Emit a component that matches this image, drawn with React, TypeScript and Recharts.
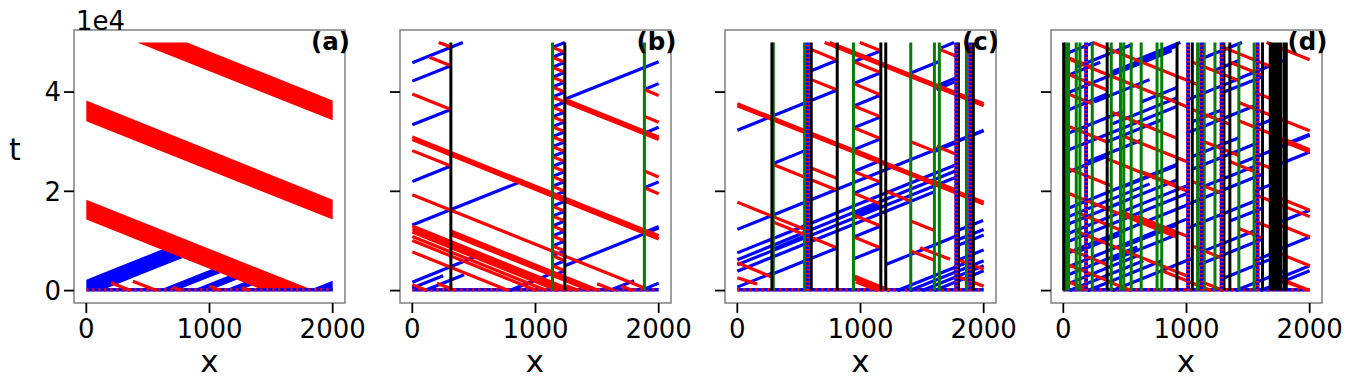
import React from 'react';
import { ComposedChart, Line, Area, XAxis, YAxis, ReferenceArea } from 'recharts';

const FONT = 'DejaVu Sans, sans-serif';
const RED = '#ff0000';
const BLUE = '#0000ff';
const GREEN = '#008000';
const BLACK = '#000000';

const X_TICKS = [0, 1000, 2000];
const T_TICKS = [0, 20000, 40000];
const T_MAX = 50000;
const PANEL_LABELS = ['(a)', '(b)', '(c)', '(d)'];

// ---------- panel (a) ----------
// bands: [x, tLow, tHigh]
const aRedBands = [
  [[0, 14300, 18300], [1445, 0, 4000], [1850, 0, 0]],
  [[0, 34100, 38300], [2000, 14300, 18300]],
  [[414, 50000, 50000], [818, 46000, 50000], [2000, 34300, 38300]],
];
const aBlueBands = [
  [[0, 0, 2200], [120, 0, 3390], [700, 5740, 9130], [830, 7030, 7800]],
  [[581, 0, 0], [730, 0, 1480], [1100, 3660, 5138]],
  [[851, 0, 0], [1000, 0, 1480], [1250, 2480, 3960]],
  [[1108, 0, 0], [1243, 0, 1340], [1350, 1060, 2400]],
  [[1800, 0, 0], [2000, 0, 1980]],
];
const aTraj = [
  [200, 1600, 360, 0],
  [378, 1900, 570, 0],
  [700, 700, 770, 0],
  [1000, 900, 1090, 0],
  [1260, 600, 1320, 0],
];
const aBlack: number[] = [];
const aGreen: number[] = [];
const aCols: number[][] = [];

// ---------- panel (b) ----------
const bBlack = [313, 1238];
const bGreen = [1138, 1884];
const bZigX = [1138, 1238];
const bZigT = [3000, 4000, 5000, 6000, 7000, 8000, 9000, 10000, 11000, 12000, 13000, 14000, 15000, 16000,
  17000, 18000, 19000, 20000, 21000, 22000, 23000, 24000, 25000, 26000, 27000, 28000, 29000, 30000, 31000,
  32000, 33000, 34000, 35000, 36000, 37000, 38000, 39000, 40000, 41000, 42000, 43000, 44000, 45000, 46000,
  47000, 48000, 49000, 50000];
const bTraj = [
  [0, 45900, 410, 50000],
  [0, 42200, 313, 45300, 140, 47000],
  [214, 50000, 313, 49100],
  [0, 33400, 313, 36500, 0, 39600],
  [0, 22000, 313, 25100, 0, 28200],
  [0, 13200, 868, 21800],
  [1238, 5000, 2000, 12600],
  [0, 30950, 2000, 11050],
  [0, 30420, 2000, 10400],
  [1238, 38530, 2000, 30950],
  [1238, 38000, 2000, 30420],
  [1238, 38530, 2000, 46100],
  [0, 19300, 1884, 500],
  [2000, 39300, 1884, 40500, 2000, 41700],
  [2000, 30500, 1884, 31700, 2000, 32900],
  [2000, 19500, 1884, 20700, 2000, 21900],
  [2000, 10500, 1884, 11700, 2000, 12900],
  [1884, 35100, 2000, 33900],
  [1884, 24100, 2000, 22900],
  [0, 13000, 1300, 0],
  [0, 12400, 1240, 0],
  [0, 11800, 1180, 0],
  [0, 10900, 1090, 0],
  [0, 10100, 1010, 0],
  [0, 7800, 780, 0],
  [313, 12000, 1513, 0],
  [313, 11300, 1443, 0],
  [0, 1700, 520, 6900],
  [0, 500, 250, 3000],
  [100, 0, 420, 3200],
  [790, 0, 1138, 3500],
  [1600, 0, 1800, 2000],
  [1884, 300, 2000, 1500],
  [0, 1200, 120, 0],
  [200, 1500, 350, 0],
  [1250, 1000, 1350, 0],
  [1500, 1400, 1640, 0],
  [1700, 900, 1790, 0],
];
const bCols: number[][] = [];

// ---------- panel (c) ----------
const cBlack = [281, 600, 811, 1165, 1205, 1795, 1916];
const cGreen = [292, 546, 943, 1408, 1600, 1640, 1860];
const cCols = [[555, 590], [1765, 1790], [1875, 1905]];
const cTraj = [
  [0, 37650, 2000, 17820],
  [0, 37250, 2000, 17420],
  [749, 50000, 2000, 37650],
  [709, 50000, 2000, 37250],
  [0, 17820, 560, 12200],
  [1795, 10300, 2000, 12330],
  [0, 12330, 2000, 32300],
  [0, 32300, 811, 40400, 590, 42600],
  [590, 44200, 811, 46400, 600, 48600],
  [946, 6400, 1165, 8600, 946, 10800, 1165, 13000, 946, 15200, 1165, 17400, 946, 19600, 1165, 21800,
    946, 24000, 1165, 26200, 946, 28400, 1165, 30600, 946, 32800, 1165, 35000, 946, 37200, 1165, 39400,
    946, 41700, 1165, 43900, 946, 46100, 1165, 48300, 995, 50000],
  [811, 20200, 281, 25500, 560, 28300],
  [281, 3300, 811, 8600, 281, 13900],
  [600, 24700, 811, 22600],
  [0, 7600, 1770, 25300],
  [0, 6200, 1770, 24100],
  [0, 5200, 1770, 22800],
  [0, 3900, 1600, 19900],
  [1605, 28070, 1768, 29750],
  [1618, 29080, 1780, 27400],
  [1616, 41200, 1778, 42900],
  [1616, 40500, 1778, 42200],
  [1414, 43900, 1643, 46200],
  [1643, 48600, 1778, 47200],
  [1655, 48900, 1760, 50000],
  [1780, 30000, 2000, 32200],
  [1300, 0, 1900, 6000],
  [1400, 0, 2000, 6000],
  [1500, 0, 2000, 5000],
  [1600, 0, 2000, 4000],
  [1778, 12000, 1995, 14100],
  [1778, 6000, 2000, 8200],
  [1778, 9000, 2000, 11200],
  [1780, 6300, 2000, 4300],
  [1780, 2900, 2000, 900],
  [1484, 8640, 1727, 6300],
  [0, 5600, 295, 2600],
  [0, 2600, 160, 1300],
  [943, 3000, 1240, 0],
  [943, 2400, 1180, 0],
  [960, 1800, 1140, 0],
  [0, 700, 300, 3700],
  [281, 8300, 551, 11000],
  [1211, 5290, 1778, 10990],
  [1408, 30000, 1600, 28100],
  [1408, 14000, 1600, 12100],
  [1211, 20000, 1408, 18000],
  [1600, 22000, 1770, 20300],
  [1408, 8000, 1600, 6100],
];

// ---------- panel (d) ----------
const dBlack = [3, 356, 923, 1047, 1304, 1352, 1617, 1680, 1692, 1704, 1716, 1728, 1740, 1752, 1764, 1792, 1810];
const dGreen = [18, 30, 42, 105, 135, 235, 389, 464, 491, 551, 632, 761, 799, 1090, 1144, 1231, 1425, 1549];
const dCols = [[170, 200], [996, 1030], [1105, 1135], [1272, 1298], [1562, 1592]];
const dTraj = [
  [0, 27900, 920, 37100],
  [0, 31300, 480, 36100],
  [0, 23500, 370, 27200],
  [0, 16200, 920, 25400],
  [0, 11100, 1020, 21300],
  [0, 9500, 1020, 19700],
  [0, 7200, 1020, 17400],
  [0, 4400, 1020, 14600],
  [0, 2800, 600, 8800],
  [0, 1000, 600, 7000],
  [50, 0, 650, 6000],
  [200, 0, 800, 6000],
  [400, 0, 920, 5200],
  [100, 45000, 560, 49600],
  [200, 41500, 880, 48300],
  [400, 33600, 920, 38800],
  [1000, 38400, 1420, 42600],
  [1000, 31700, 1560, 37300],
  [1420, 25500, 2000, 31300],
  [1050, 24500, 1560, 29600],
  [1000, 17300, 1620, 23500],
  [1000, 12500, 1560, 18100],
  [1100, 5200, 1620, 10400],
  [1300, 2500, 1770, 7200],
  [1770, 29200, 2000, 31500],
  [1770, 25600, 2000, 27900],
  [1770, 13900, 2000, 16200],
  [1770, 8500, 2000, 10800],
  [1770, 2700, 2000, 5000],
  [1430, 42800, 1800, 46500],
  [1240, 44500, 1430, 46400],
  [1100, 46500, 1450, 50000],
  [600, 46500, 950, 50000],
  [250, 38000, 700, 42500],
  [500, 21000, 920, 25200],
  [0, 13000, 500, 18000],
  [1600, 0, 2000, 4000],
  [1400, 0, 1800, 4000],
  [0, 36000, 356, 39600],
  [0, 39500, 235, 41800],
  [0, 43000, 300, 46000],
  [0, 47500, 250, 50000],
  [389, 44000, 923, 49300],
  [356, 30000, 800, 34400],
  [389, 17000, 923, 22300],
  [0, 14500, 700, 21500],
  [500, 9000, 923, 13200],
  [389, 6000, 923, 11300],
  [600, 2000, 1047, 6500],
  [1047, 34000, 1304, 36600],
  [1047, 27000, 1425, 30800],
  [1144, 21000, 1549, 25000],
  [1144, 8000, 1549, 12000],
  [1304, 40000, 1617, 43100],
  [1352, 14000, 1617, 16600],
  [200, 26000, 632, 30300],
  [632, 38000, 923, 40900],
  [135, 8000, 464, 11300],
  [1549, 33000, 1680, 34300],
  [1549, 20000, 1680, 21300],
  [1549, 6000, 1680, 7300],
  [240, 50000, 1100, 41400],
  [50, 46600, 1020, 36900],
  [360, 26500, 1020, 19900],
  [0, 20000, 920, 10800],
  [100, 12000, 1000, 3000],
  [1425, 37900, 2000, 32200],
  [1425, 34200, 2000, 28400],
  [1770, 30200, 2000, 27900],
  [1770, 18500, 2000, 16200],
  [1770, 13100, 2000, 10800],
  [1770, 7300, 2000, 5000],
  [1550, 19400, 2000, 14900],
  [0, 33500, 360, 29900],
  [0, 40000, 235, 37650],
  [500, 31000, 1000, 26000],
  [600, 15000, 1000, 11000],
  [1050, 46000, 1425, 42300],
  [1300, 49000, 1770, 44300],
  [1650, 50000, 2000, 46500],
  [0, 5600, 400, 1600],
  [800, 4000, 1200, 0],
  [1700, 3000, 2000, 0],
  [1800, 1800, 2000, 0],
  [0, 47300, 235, 45000],
  [0, 44000, 356, 40400],
  [389, 36000, 923, 30700],
  [0, 25000, 389, 21100],
  [464, 16000, 923, 11400],
  [0, 8800, 356, 5200],
  [135, 15500, 464, 12200],
  [632, 24000, 923, 21100],
  [1047, 36500, 1352, 33500],
  [1047, 22000, 1304, 19500],
  [1144, 30000, 1425, 27200],
  [1352, 46000, 1617, 43400],
  [1352, 26000, 1549, 24000],
  [1425, 12500, 1617, 10600],
  [1549, 40000, 1680, 38700],
  [1549, 26000, 1680, 24700],
  [1549, 14000, 1680, 12700],
  [1047, 9000, 1304, 6400],
  [0, 2200, 200, 200],
  [400, 1500, 550, 0],
  [1100, 2000, 1300, 0],
];

const BASELINE = [[0, 150, 2000, 150]];

// ---------- helpers ----------
type Pt = { x: number; t: number | null };

function segsToData(segs: number[][]): Pt[] {
  const out: Pt[] = [];
  for (const s of segs) {
    out.push({ x: s[0], t: s[1] }, { x: s[2], t: s[3] }, { x: s[2], t: null });
  }
  return out;
}

function splitTraj(trajs: number[][]) {
  const red: number[][] = [];
  const blue: number[][] = [];
  for (const p of trajs) {
    for (let i = 0; i + 3 < p.length; i += 2) {
      const s = [p[i], p[i + 1], p[i + 2], p[i + 3]];
      ((s[2] - s[0]) * (s[3] - s[1]) > 0 ? blue : red).push(s);
    }
  }
  return { red, blue };
}

function zigPolyline(xs: number[], times: number[]): number[] {
  const out: number[] = [];
  times.forEach((t, i) => { out.push(xs[i % 2], t); });
  return out;
}

const verticals = (xs: number[]) => xs.map((x) => [x, 0, x, T_MAX]);

const FRAME_LEFT = [74, 399.5, 725, 1050.5];
const FRAME_W = 271;
const ML = 74;
const MR = 30;
const LW = 3.2;

type PanelProps = {
  idx: number;
  redBands?: number[][][];
  blueBands?: number[][][];
  traj: number[][];
  black: number[];
  green: number[];
  cols: number[][];
};

function Panel({ idx, redBands = [], blueBands = [], traj, black, green, cols }: PanelProps) {
  const { red, blue } = splitTraj(traj);
  const colSegs = cols.map(([a, b]) => [(a + b) / 2, 0, (a + b) / 2, T_MAX]);
  const tickStyle = { fontSize: 26, fill: '#000', fontFamily: FONT };
  return (
    <div style={{ position: 'absolute', left: FRAME_LEFT[idx] - ML, top: 0 }}>
      <ComposedChart width={ML + FRAME_W + MR} height={378} margin={{ top: 30, right: MR, bottom: 0, left: 0 }}>
        <XAxis
          type="number"
          dataKey="x"
          domain={[-100, 2100]}
          allowDataOverflow
          ticks={X_TICKS}
          interval={0}
          height={75}
          tickSize={10}
          tickMargin={7}
          axisLine={false}
          tickLine={{ stroke: '#000', strokeWidth: 1.8 }}
          tick={tickStyle}
        />
        <YAxis
          type="number"
          domain={[-2500, 52500]}
          allowDataOverflow
          ticks={T_TICKS}
          interval={0}
          width={ML}
          tickSize={10}
          tickMargin={3}
          axisLine={false}
          tickLine={{ stroke: '#000', strokeWidth: 1.8 }}
          tick={tickStyle}
          tickFormatter={(v: number) => (idx === 0 ? String(v / 10000) : '')}
        />
        {blueBands.map((b, i) => (
          <Area
            key={'bb' + i}
            data={b.map(([x, lo, hi]) => ({ x, r: [lo, hi] }))}
            dataKey="r"
            type="linear"
            stroke="none"
            fill={BLUE}
            fillOpacity={1}
            isAnimationActive={false}
          />
        ))}
        {redBands.map((b, i) => (
          <Area
            key={'rb' + i}
            data={b.map(([x, lo, hi]) => ({ x, r: [lo, hi] }))}
            dataKey="r"
            type="linear"
            stroke="none"
            fill={RED}
            fillOpacity={1}
            isAnimationActive={false}
          />
        ))}
        <Line data={segsToData(BASELINE)} dataKey="t" stroke={BLUE} strokeWidth={3.5} dot={false} isAnimationActive={false} />
        <Line data={segsToData(BASELINE)} dataKey="t" stroke={RED} strokeWidth={3.5} strokeDasharray="2 4" dot={false} isAnimationActive={false} />
        <Line data={segsToData(blue)} dataKey="t" stroke={BLUE} strokeWidth={LW} dot={false} isAnimationActive={false} />
        <Line data={segsToData(red)} dataKey="t" stroke={RED} strokeWidth={LW} dot={false} isAnimationActive={false} />
        <Line data={segsToData(verticals(green))} dataKey="t" stroke={GREEN} strokeWidth={3} dot={false} isAnimationActive={false} />
        <Line data={segsToData(verticals(black))} dataKey="t" stroke={BLACK} strokeWidth={3} dot={false} isAnimationActive={false} />
        <Line data={segsToData(colSegs)} dataKey="t" stroke={BLUE} strokeWidth={3.8} dot={false} isAnimationActive={false} />
        <Line data={segsToData(colSegs)} dataKey="t" stroke={RED} strokeWidth={3.8} strokeDasharray="1.5 2.5" dot={false} isAnimationActive={false} />
        <ReferenceArea x1={-100} x2={2100} y1={-2500} y2={52500} fill="none" fillOpacity={0} stroke="#808080" strokeWidth={1.5} ifOverflow="visible" />
      </ComposedChart>
    </div>
  );
}

export default function App() {
  const bTrajAll = [...bTraj, zigPolyline(bZigX, bZigT)];
  return (
    <div style={{ position: 'absolute', left: 0, top: 0, width: 1347, height: 378, background: '#fff', fontFamily: FONT }}>
      <Panel idx={0} redBands={aRedBands} blueBands={aBlueBands} traj={aTraj} black={aBlack} green={aGreen} cols={aCols} />
      <Panel idx={1} traj={bTrajAll} black={bBlack} green={bGreen} cols={bCols} />
      <Panel idx={2} traj={cTraj} black={cBlack} green={cGreen} cols={cCols} />
      <Panel idx={3} traj={dTraj} black={dBlack} green={dGreen} cols={dCols} />
      <svg width={1347} height={378} style={{ position: 'absolute', left: 0, top: 0, pointerEvents: 'none' }}>
        <text x={76} y={29.5} fontSize={26} fontFamily={FONT} fill="#000">1e4</text>
        <text x={15} y={160} fontSize={30} fontFamily={FONT} fill="#000" textAnchor="middle">t</text>
        {FRAME_LEFT.map((l, i) => (
          <g key={i}>
            <text x={l + FRAME_W / 2} y={372} fontSize={31} fontFamily={FONT} fill="#000" textAnchor="middle">x</text>
            <text x={l + FRAME_W - 34} y={50} fontSize={24.5} fontWeight="bold" fontFamily={FONT} fill="#000">{PANEL_LABELS[i]}</text>
          </g>
        ))}
      </svg>
    </div>
  );
}
